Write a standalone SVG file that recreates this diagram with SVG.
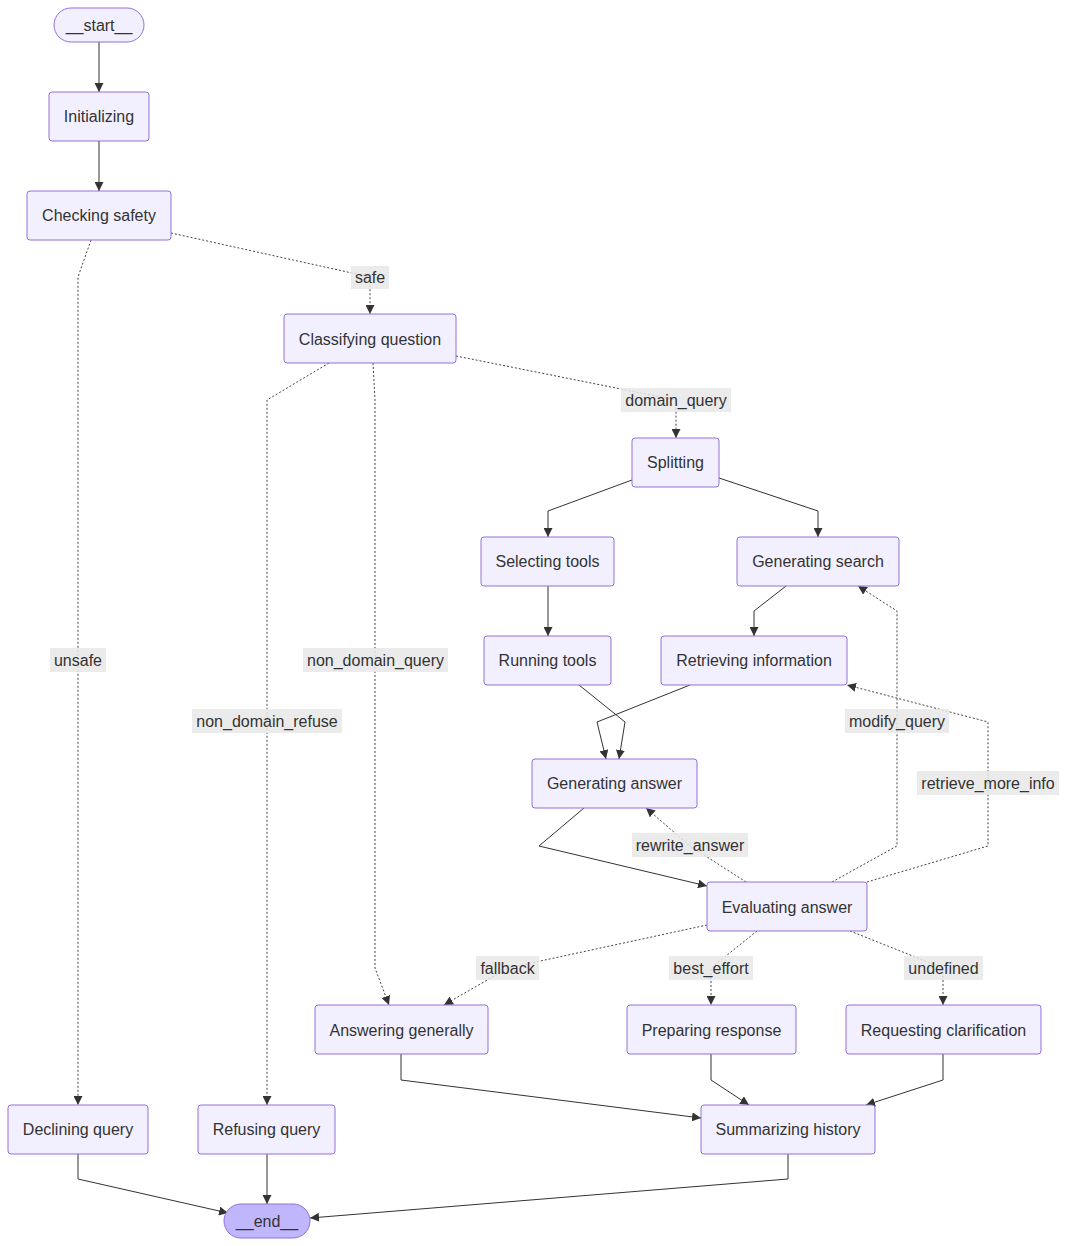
<svg xmlns="http://www.w3.org/2000/svg" width="1067" height="1246" viewBox="0 0 1067 1246">
<style>
.n rect{fill:#f2f0ff;stroke:#9370DB;stroke-width:1}
.n.last rect{fill:#bfb6fc}
text{font-family:"Liberation Sans",Arial,sans-serif;font-size:16px;fill:#333;text-anchor:middle}
.e path{fill:none;stroke:#333;stroke-width:1;marker-end:url(#arr)}
.e path.d{stroke-dasharray:2 2;stroke:#444}
.lb rect{fill:#e8e8e8;opacity:0.85}
</style>
<defs>
<marker id="arr" viewBox="0 0 10 10" refX="10" refY="5" markerUnits="userSpaceOnUse" markerWidth="9" markerHeight="9" orient="auto">
<path d="M0,0 L10,5 L0,10 z" fill="#333"/>
</marker>
</defs>
<rect width="1067" height="1246" fill="#fff"/>
<g id="edges" class="e">
<path d="M99,42 L99,92"/>
<path d="M99,141 L99,191"/>
<path class="d" d="M91,240 L78,277 L78,1105"/>
<path class="d" d="M171,233 L370,277 L370,314"/>
<path class="d" d="M329,363 L267,400 L267,1105"/>
<path class="d" d="M373,363 L375,400 L375,968 L389,1005"/>
<path class="d" d="M456,356 L676,400 L676,438"/>
<path d="M632,480 L548,511 L548,537"/>
<path d="M719,478 L818,511 L818,537"/>
<path d="M548,586 L548,636"/>
<path d="M786,586 L754,611 L754,636"/>
<path d="M579,685 L625,722 L619,759"/>
<path d="M690,685 L597,722 L606,759"/>
<path d="M584,808 L539,846 L707,886"/>
<path class="d" d="M746,882 L690,846 L646,808"/>
<path class="d" d="M832,882 L897,846 L897,611 L858,586"/>
<path class="d" d="M867,882 L988,846 L988,722 L847,685"/>
<path class="d" d="M707,925 L508,968 L444,1005"/>
<path class="d" d="M757,931 L711,968 L711,1005"/>
<path class="d" d="M850,931 L943,968 L943,1005"/>
<path d="M401,1054 L401,1080 L701,1118"/>
<path d="M711,1054 L711,1080 L749,1105"/>
<path d="M943,1054 L943,1080 L866,1105"/>
<path d="M78,1154 L78,1179 L228,1213"/>
<path d="M267,1154 L267,1204"/>
<path d="M788,1154 L788,1179 L310,1218"/>
</g>
<g id="edge-labels" class="lb">
<rect x="351" y="266" width="38" height="23"/><text x="370" y="283">safe</text>
<rect x="50" y="648" width="56" height="24"/><text x="78" y="666">unsafe</text>
<rect x="621" y="388" width="110" height="24"/><text x="676" y="406">domain_query</text>
<rect x="303" y="648" width="145" height="24"/><text x="375.5" y="666">non_domain_query</text>
<rect x="192" y="709" width="150" height="24"/><text x="267" y="727">non_domain_refuse</text>
<rect x="845" y="709" width="104" height="24"/><text x="897" y="727">modify_query</text>
<rect x="917" y="771" width="142" height="24"/><text x="988" y="789">retrieve_more_info</text>
<rect x="632" y="833" width="116" height="24"/><text x="690" y="851">rewrite_answer</text>
<rect x="476" y="956" width="63" height="24"/><text x="507.5" y="974">fallback</text>
<rect x="669" y="956" width="84" height="24"/><text x="711" y="974">best_effort</text>
<rect x="904" y="956" width="79" height="24"/><text x="943.5" y="974">undefined</text>
</g>
<g id="start" class="n"><rect x="54" y="8" width="90" height="34" rx="17"/><text x="99" y="31">__start__</text></g>
<g id="initializing" class="n"><rect x="49" y="92" width="100" height="49" rx="3"/><text x="99" y="122">Initializing</text></g>
<g id="checking_safety" class="n"><rect x="27" y="191" width="144" height="49" rx="3"/><text x="99" y="221">Checking safety</text></g>
<g id="classifying_question" class="n"><rect x="284" y="314" width="172" height="49" rx="3"/><text x="370" y="345">Classifying question</text></g>
<g id="splitting" class="n"><rect x="632" y="438" width="87" height="49" rx="3"/><text x="675.5" y="468">Splitting</text></g>
<g id="selecting_tools" class="n"><rect x="481" y="537" width="133" height="49" rx="3"/><text x="547.5" y="567">Selecting tools</text></g>
<g id="generating_search" class="n"><rect x="737" y="537" width="162" height="49" rx="3"/><text x="818" y="567">Generating search</text></g>
<g id="running_tools" class="n"><rect x="484" y="636" width="127" height="49" rx="3"/><text x="547.5" y="666">Running tools</text></g>
<g id="retrieving_information" class="n"><rect x="661" y="636" width="186" height="49" rx="3"/><text x="754" y="666">Retrieving information</text></g>
<g id="generating_answer" class="n"><rect x="532" y="759" width="165" height="49" rx="3"/><text x="614.5" y="789">Generating answer</text></g>
<g id="evaluating_answer" class="n"><rect x="707" y="882" width="160" height="49" rx="3"/><text x="787" y="913">Evaluating answer</text></g>
<g id="answering_generally" class="n"><rect x="315" y="1005" width="173" height="49" rx="3"/><text x="401.5" y="1036">Answering generally</text></g>
<g id="preparing_response" class="n"><rect x="627" y="1005" width="169" height="49" rx="3"/><text x="711.5" y="1036">Preparing response</text></g>
<g id="requesting_clarification" class="n"><rect x="846" y="1005" width="195" height="49" rx="3"/><text x="943.5" y="1036">Requesting clarification</text></g>
<g id="declining_query" class="n"><rect x="8" y="1105" width="140" height="49" rx="3"/><text x="78" y="1135">Declining query</text></g>
<g id="refusing_query" class="n"><rect x="198" y="1105" width="137" height="49" rx="3"/><text x="266.5" y="1135">Refusing query</text></g>
<g id="summarizing_history" class="n"><rect x="701" y="1105" width="174" height="49" rx="3"/><text x="788" y="1135">Summarizing history</text></g>
<g id="end" class="n last"><rect x="224" y="1204" width="86" height="34" rx="17"/><text x="267" y="1227">__end__</text></g>
</svg>
